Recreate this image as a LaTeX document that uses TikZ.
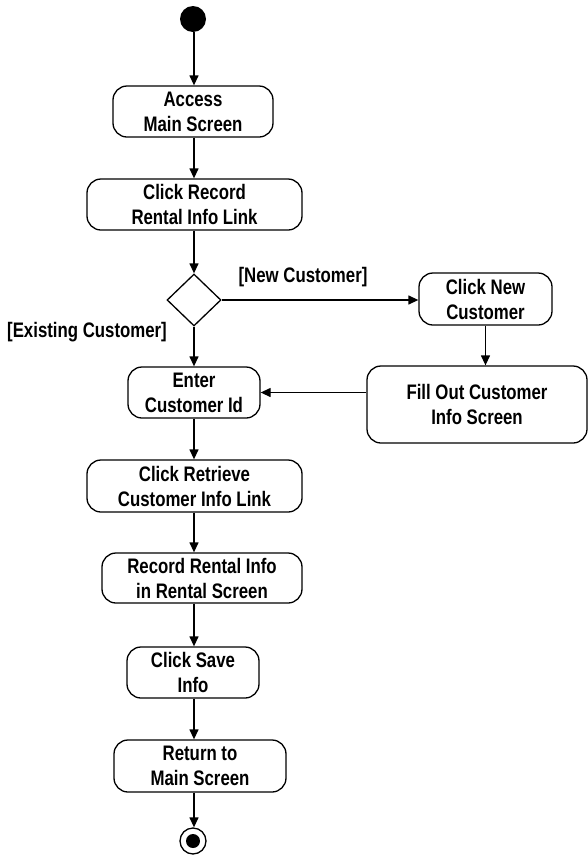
\documentclass[tikz,border=0pt]{standalone}
\usepackage{fontspec}
\setmainfont{Liberation Sans}[FakeStretch=0.8]
\usepackage{tikz}
\usetikzlibrary{arrows.meta,positioning,shapes.geometric}
\definecolor{actInk}{RGB}{0,0,0}

\begin{document}
\begin{tikzpicture}[x=1pt,y=-1pt,
  action/.style={draw=actInk, line width=1.3pt, rounded corners=14pt, align=center,
    inner sep=0pt, font=\fontsize{21}{25}\selectfont\bfseries},
  flow/.style={draw=actInk, line width=1.3pt, -{Triangle[length=10pt,width=9pt]}},
  guard/.style={text=actInk, font=\fontsize{21}{25}\selectfont\bfseries}]
\useasboundingbox (0,0) rectangle (588,860);

% main column
\coordinate (col) at (194,0);
\node[circle, fill=actInk, minimum size=26pt, inner sep=0pt] (start) at (193,19) {};
\node[action, minimum width=160pt, minimum height=51pt] (access) at (193,111.5) {Access\\Main Screen};
\node[action, minimum width=215pt, minimum height=51pt] (record) at (194.5,204.5) {Click Record\\Rental Info Link};
\node[diamond, draw=actInk, line width=1.3pt, minimum width=54pt, minimum height=52pt, inner sep=0pt] (choice) at (194,300) {};
\node[action, minimum width=132pt, minimum height=51pt] (enter) at (194,392.5) {Enter\\Customer Id};
\node[action, minimum width=215pt, minimum height=52pt] (retrieve) at (194.5,486) {Click Retrieve\\Customer Info Link};
\node[action, minimum width=200pt, minimum height=50pt] (rental) at (202,578) {Record Rental Info\\in Rental Screen};
\node[action, minimum width=132pt, minimum height=51pt] (save) at (193,672.5) {Click Save\\Info};
\node[action, minimum width=172pt, minimum height=52pt] (return) at (200,766) {Return to\\Main Screen};
\node[circle, draw=actInk, line width=1.3pt, minimum size=26pt, inner sep=0pt] (stop) at (193,841) {};
\fill[actInk] (stop) circle (7pt);

% new customer branch
\node[action, minimum width=133pt, minimum height=52pt] (newcust) at (485.5,299) {Click New\\Customer};
\node[action, minimum width=220pt, minimum height=77pt] (fillout) at (477,404.5) {Fill Out Customer\\Info Screen};

% guards
\node[guard] (newlbl) at (303,277) {[New Customer]};
\node[guard] (oldlbl) at (87,332) {[Existing Customer]};

% connectors
\draw[flow] (start.south -| col) -- (access.north -| col);
\foreach \a/\b in {access/record,record/choice,choice/enter,enter/retrieve,retrieve/rental,rental/save,save/return,return/stop}
{
    \draw[flow] (\a.south -| col) -- (\b.north -| col);
}
\draw[flow] (choice.east) -- (choice.east -| newcust.west);
\draw[flow] (newcust.south) -- (newcust.south |- fillout.north);
\draw[flow] (enter.east -| fillout.west) -- (enter.east);
\end{tikzpicture}
\end{document}
